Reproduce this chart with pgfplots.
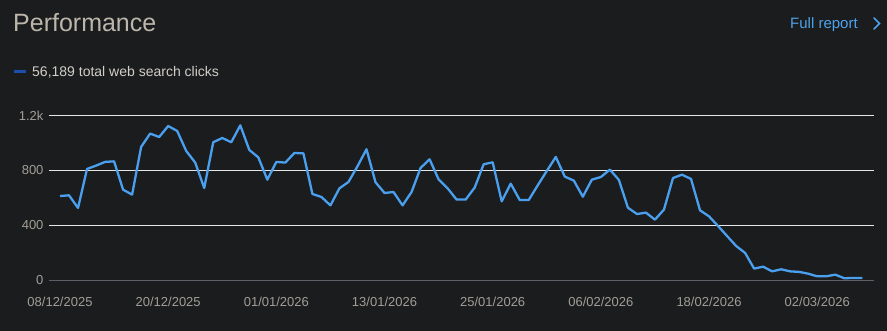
\documentclass[border=0pt]{standalone}
\usepackage{pgfplots}
\pgfplotsset{compat=1.18}
\usepackage{fontspec}
\setmainfont{Liberation Sans}
\definecolor{bg}{HTML}{1B1C1E}
\definecolor{titlec}{HTML}{BDB6AB}
\definecolor{legc}{HTML}{D2CEC8}
\definecolor{tickc}{HTML}{A29E97}
\definecolor{linec}{HTML}{4A9FEE}
\definecolor{legdash}{HTML}{1A4FAE}
\definecolor{linkc}{HTML}{4DA2EE}
\definecolor{gridc}{HTML}{E6E6E6}
\definecolor{zeroc}{HTML}{5A6066}
\begin{document}
\begin{tikzpicture}[x=1pt,y=1pt]
\fill[bg] (0,0) rectangle (887,331);
\node[anchor=base west,inner sep=0pt,text=titlec,font=\fontsize{25}{30}\selectfont] at (13,299) {Performance};
\node[anchor=base west,inner sep=0pt,text=linkc,font=\fontsize{15}{18}\selectfont] at (790,302) {Full report};
\draw[linkc,line width=1.6pt,line cap=round,line join=miter] (874,313) -- (879.5,307.5) -- (874,302);
\draw[legdash,line width=3pt] (14,259) -- (26,259);
\node[anchor=base west,inner sep=0pt,text=legc,font=\fontsize{14}{17}\selectfont] at (32,254) {56,189 total web search clicks};
\begin{axis}[
  at={(49pt,50.7pt)}, anchor=south west,
  width=825pt, height=165pt, scale only axis,
  xmin=-1.22, xmax=90.3, ymin=0, ymax=1200,
  axis line style={draw=none},
  xtick pos=lower, ytick pos=left,
  clip=false,
  xtick={0,12,24,36,48,60,72,84},
  xticklabels={08/12/2025,20/12/2025,01/01/2026,13/01/2026,25/01/2026,06/02/2026,18/02/2026,02/03/2026},
  ytick={0,400,800,1200},
  yticklabels={0,400,800,1.2k},
  tick style={draw=none},
  ticklabel style={text=tickc,font=\fontsize{13}{15}\selectfont},
  /pgf/number format/assume math mode=true,
  xticklabel style={anchor=center,yshift=-22pt},
  yticklabel style={anchor=east,xshift=-2pt},
]
\draw[gridc,line width=1.3pt] (axis cs:-1.22,400) -- (axis cs:90.3,400);
\draw[gridc,line width=1.3pt] (axis cs:-1.22,800) -- (axis cs:90.3,800);
\draw[gridc,line width=1.3pt] (axis cs:-1.22,1200) -- (axis cs:90.3,1200);
\draw[zeroc,line width=1pt] (axis cs:-1.22,0) -- (axis cs:90.3,0);
\addplot[linec,line width=2.3pt,line join=round,no marks] table {
x y
0 613
1 618
2 526
3 810
4 834
5 861
6 865
7 659
8 623
9 970
10 1067
11 1042
12 1122
13 1086
14 941
15 856
16 671
17 1004
18 1035
19 1004
20 1127
21 948
22 894
23 732
24 861
25 856
26 926
27 923
28 628
29 606
30 545
31 669
32 715
33 829
34 953
35 713
36 635
37 642
38 545
39 642
40 817
41 880
42 734
43 669
44 587
45 587
46 674
47 844
48 858
49 574
50 703
51 584
52 584
53 691
54 795
55 897
56 754
57 725
58 608
59 732
60 751
61 805
62 730
63 528
64 482
65 492
66 441
67 514
68 744
69 768
70 737
71 509
72 465
73 395
74 322
75 250
76 199
77 85
78 99
79 65
80 80
81 65
82 61
83 48
84 29
85 29
86 41
87 15
88 17
89 17
};
\end{axis}
\end{tikzpicture}
\end{document}
